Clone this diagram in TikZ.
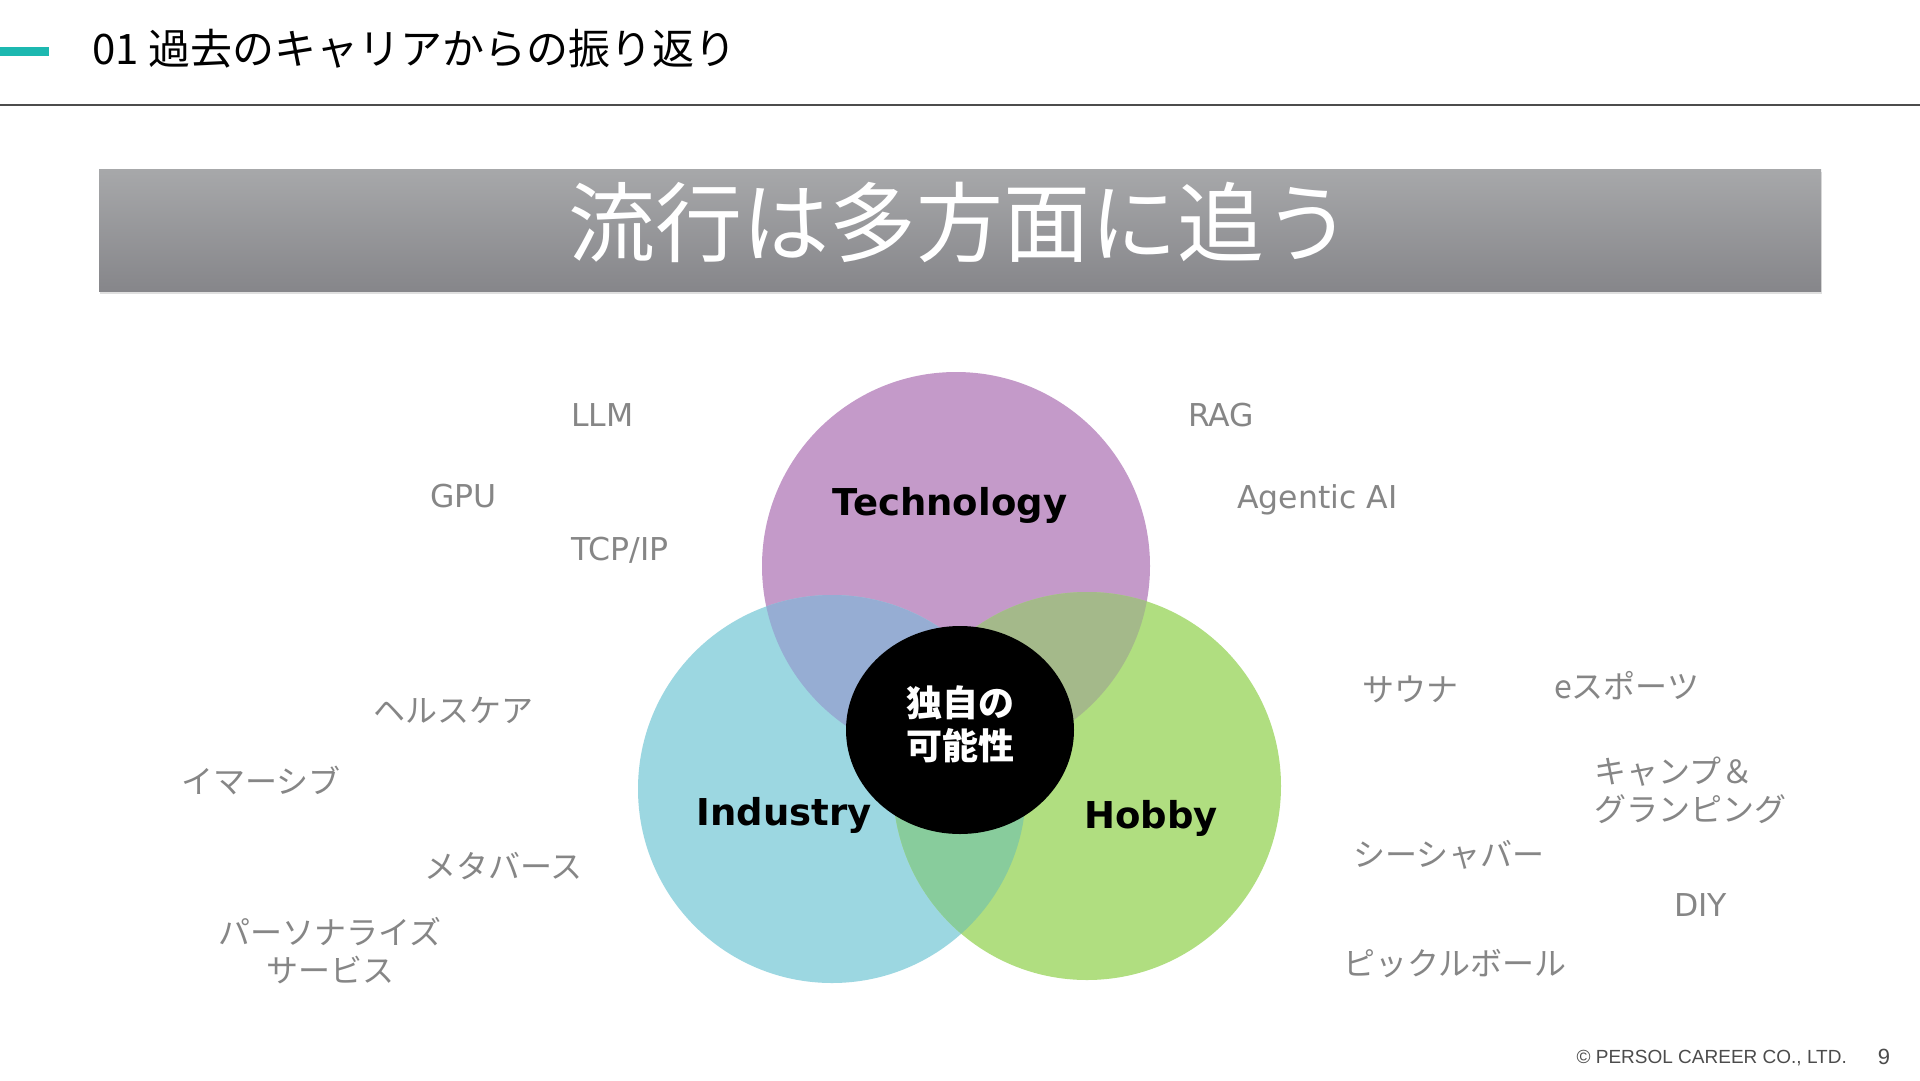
\documentclass[tikz,border=0pt]{standalone}
\usepackage{fontspec}
\setmainfont{DejaVu Sans}
\newfontfamily\jpfont{Noto Sans CJK JP}
\newfontfamily\footfont{Liberation Sans}
\usetikzlibrary{positioning, shapes.geometric, shadows}
\definecolor{techc}{HTML}{C49AC9}
\definecolor{indc}{HTML}{9CD7E1}
\definecolor{hobc}{HTML}{B0DE80}
\definecolor{ticol}{HTML}{96ADD3}
\definecolor{thcol}{HTML}{A4B98A}
\definecolor{ihcol}{HTML}{88CC9C}
\definecolor{trend}{HTML}{868686}
\definecolor{accent}{HTML}{1DB8B0}
\definecolor{bantop}{HTML}{A7A8AA}
\definecolor{banbot}{HTML}{86868A}

\begin{document}
\begin{tikzpicture}[
    x=1pt, y=-1pt,
    every node/.style={inner sep=0pt},
    venn/.style={circle, minimum size=388pt, draw=none},
    cat/.style={font=\fontsize{37}{44}\selectfont\bfseries, text=black},
    word/.style={anchor=west, text=trend, font=\fontsize{31.5}{38}\selectfont},
    kana/.style={anchor=west, text=trend, font=\jpfont\fontsize{32}{38}\selectfont, align=left},
    core/.style={ellipse, fill=black, minimum width=228pt, minimum height=208pt},
    coretext/.style={text=white, align=center, font=\jpfont\bfseries\fontsize{36}{43}\selectfont},
    banner/.style={rectangle, minimum width=1722pt, minimum height=122pt, top color=bantop,
      bottom color=banbot, drop shadow={opacity=0.25, shadow xshift=1pt, shadow yshift=-3pt}},
    motto/.style={text=white, font=\jpfont\fontsize{87}{90}\selectfont}
]
\useasboundingbox (0,0) rectangle (1920,1080);
\fill[white] (0,0) rectangle (1920,1080);

\fill[accent] (0,47) rectangle (49,56);
\node[anchor=west, font=\jpfont\fontsize{42}{46}\selectfont] (head) at (92,49) {01 過去のキャリアからの振り返り};
\draw[line width=1.5pt, black!70] (0,105) -- (1920,105);

\node[banner] (banner) at (960,230) {};
\node[motto] (mottotext) at (960,222) {流行は多方面に追う};

\node[venn, fill=techc] (tech) at (956,566) {};
\node[venn, fill=indc] (ind) at (832,789) {};
\node[venn, fill=hobc] (hob) at (1087,786) {};
\begin{scope}
  \clip (tech.center) circle[radius=194pt];
  \fill[ticol] (ind.center) circle[radius=194pt];
  \fill[thcol] (hob.center) circle[radius=194pt];
\end{scope}
\begin{scope}
  \clip (ind.center) circle[radius=194pt];
  \fill[ihcol] (hob.center) circle[radius=194pt];
\end{scope}
\node[core] (uniq) at (960,730) {};
\node[coretext] (uniqtext) at (960,724) {独自の\\可能性};

\node[cat] (techl) at (950,505) {Technology};
\node[cat] (indl) at (784,815) {Industry};
\node[cat] (hobl) at (1151,818) {Hobby};

\node[word] (llm) at (571,415) {LLM};
\node[word] (rag) at (1188,415) {RAG};
\node[word] (gpu) at (430,496) {GPU};
\node[word] (agent) at (1237,500) {Agentic AI};
\node[word] (tcp) at (571,550) {TCP/IP};
\node[word] (diy) at (1674,905) {DIY};

\node[kana] (health) at (373,710) {ヘルスケア};
\node[kana] (immer) at (181,780) {イマーシブ};
\node[kana] (meta) at (424,866) {メタバース};
\node[kana, anchor=center, align=center] (person) at (330,951) {パーソナライズ\\サービス};
\node[kana] (sauna) at (1362,689) {サウナ};
\node[kana] (esport) at (1554,686) {eスポーツ};
\node[kana] (camp) at (1594,790) {キャンプ＆\\グランピング};
\node[kana] (shisha) at (1353,855) {シーシャバー};
\node[kana] (pickle) at (1343,964) {ピックルボール};

\node[anchor=east, text=black!70, font=\footfont\fontsize{19}{22}\selectfont] (copy) at (1847,1058) {© PERSOL CAREER CO., LTD.};
\node[text=black!70, font=\footfont\fontsize{22}{24}\selectfont] (page) at (1884,1057) {9};
\end{tikzpicture}
\end{document}
